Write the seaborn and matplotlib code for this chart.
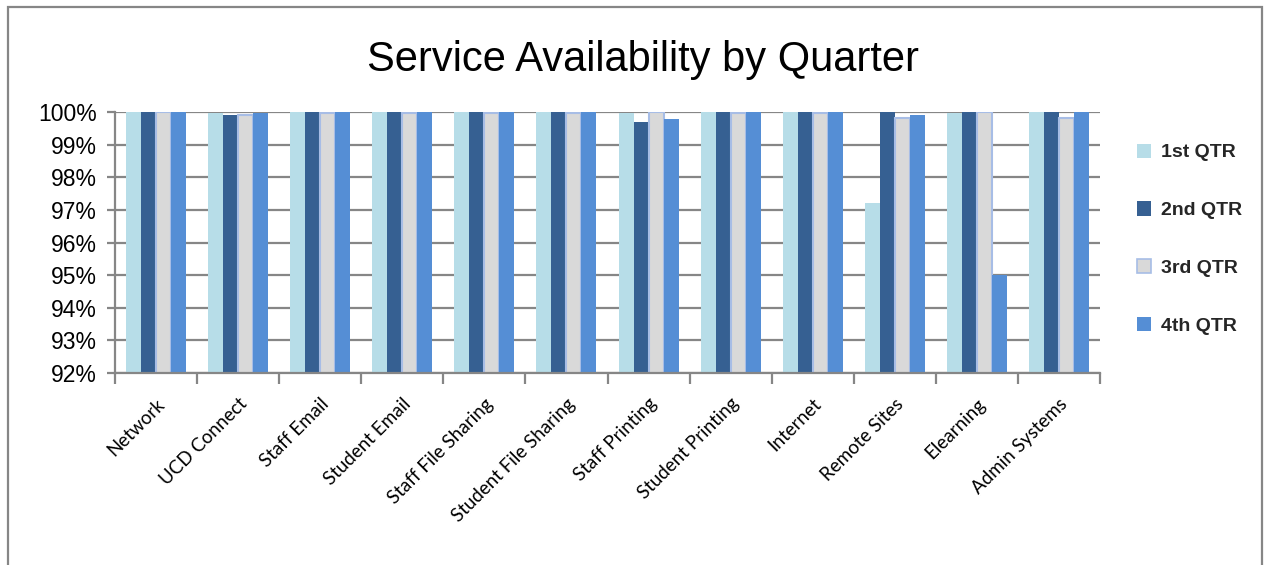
import matplotlib
matplotlib.use("Agg")
import matplotlib.pyplot as plt
import seaborn as sns
import pandas as pd
import numpy as np
from matplotlib.patches import Rectangle
from matplotlib.ticker import FixedLocator, PercentFormatter

services = ["Network", "UCD Connect", "Staff Email", "Student Email", "Staff File Sharing",
            "Student File Sharing", "Staff Printing", "Student Printing", "Internet",
            "Remote Sites", "Elearning", "Admin Systems"]
quarters = ["1st QTR", "2nd QTR", "3rd QTR", "4th QTR"]
q1 = [100.0, 99.98, 100.0, 100.0, 100.0, 100.0, 99.98, 100.0, 100.0, 97.2, 99.98, 100.0]
q2 = [100.0, 99.92, 100.0, 100.0, 100.0, 100.0, 99.68, 100.0, 100.0, 100.0, 100.0, 100.0]
q3 = [99.99, 99.91, 99.98, 99.98, 99.98, 99.98, 99.99, 99.98, 99.98, 99.82, 99.99, 99.82]
q4 = [100.0, 99.96, 100.0, 100.0, 100.0, 100.0, 99.8, 100.0, 100.0, 99.9, 95.0, 100.0]
colors = ["#b7dde8", "#366092", "#d9d9d9", "#558ed5"]

df = pd.DataFrame({
    "Service": services * 4,
    "Quarter": [q for q in quarters for _ in services],
    "Value": q1 + q2 + q3 + q4,
})

sns.set_theme(style="white")
plt.rcParams["font.family"] = ["Liberation Sans", "DejaVu Sans"]

fig = plt.figure(figsize=(12.7, 5.65), dpi=100)
ax = fig.add_axes([115/1270, 1 - 373/565, (1100-115)/1270, (373-112)/565])

sns.barplot(data=df, x="Service", y="Value", hue="Quarter", order=services,
            hue_order=quarters, palette=colors, width=0.73, saturation=1,
            ax=ax, legend=True, edgecolor="none", linewidth=0)

# 3rd quarter bars get a light blue edge
for bar in ax.containers[2]:
    bar.set_edgecolor("#a7bde6")
    bar.set_linewidth(1.5)

ax.set_ylim(92, 100)
ax.set_xlim(-0.5, len(services) - 0.5)
ax.yaxis.set_major_locator(FixedLocator(np.arange(92, 100.1, 1)))
ax.yaxis.set_major_formatter(PercentFormatter(decimals=0))
ax.set_axisbelow(True)
ax.grid(axis="y", color="#868686", linewidth=1.6)
ax.grid(axis="x", visible=False)

for s in ["top", "right"]:
    ax.spines[s].set_visible(False)
for s in ["left", "bottom"]:
    ax.spines[s].set_color("#868686")
    ax.spines[s].set_linewidth(1.6)

ax.tick_params(axis="y", which="major", left=True, length=6, width=1.6, color="#868686",
               labelsize=16.5, pad=7, labelcolor="black")
ax.tick_params(axis="x", which="major", bottom=False, length=0, pad=16)
ax.xaxis.set_minor_locator(FixedLocator(np.arange(-0.5, len(services), 1)))
ax.tick_params(axis="x", which="minor", bottom=True, length=8, width=1.6, color="#868686")
ax.set_xlabel("")
ax.set_ylabel("")
ax.set_xticks(range(len(services)))
ax.set_xticklabels(services, rotation=45, ha="right", rotation_mode="anchor",
                   fontsize=13.5, family=["Lato", "DejaVu Sans"], color="black")

leg = ax.legend(loc="upper left", bbox_to_anchor=(1004/985, 1 - 14/261),
                frameon=False, labelspacing=2.05, handlelength=0.75, handleheight=0.75,
                handletextpad=0.5, prop={"family": ["Liberation Sans", "DejaVu Sans"],
                                         "weight": "bold", "size": 14})
handles = leg.legend_handles
handles[2].set_edgecolor("#a7bde6")
handles[2].set_linewidth(1.2)

fig.text(643/1270, 1 - 60/565, "Service Availability by Quarter", ha="center", va="center",
         fontsize=30, color="black")

# outer chart border
border = Rectangle((8/1270, -0.05), (1262-8)/1270, 1.05 - 7/565, transform=fig.transFigure,
                   fill=False, edgecolor="#868686", linewidth=1.6, clip_on=False)
fig.patches.append(border)

fig.savefig("out.png", dpi=100)
